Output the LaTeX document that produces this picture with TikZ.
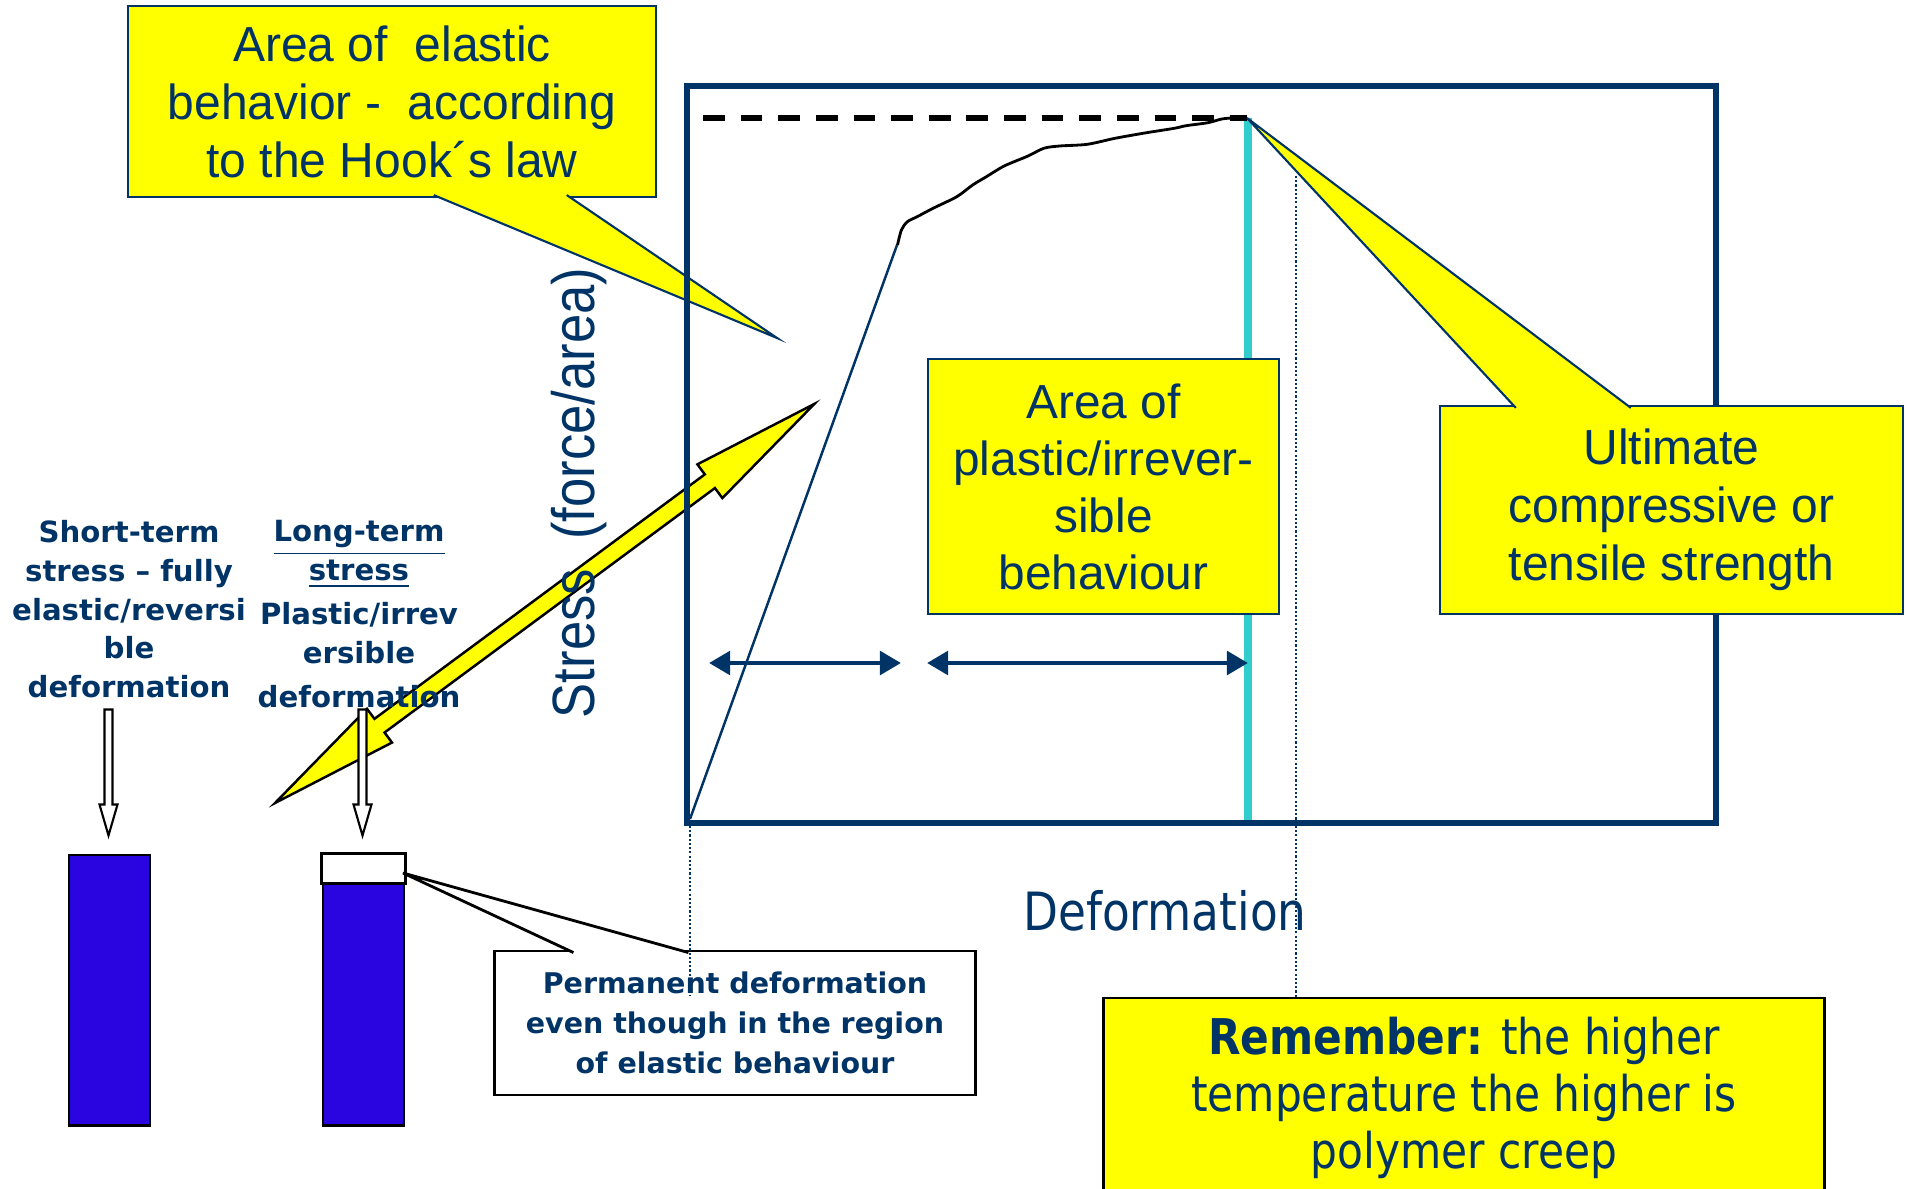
\documentclass[tikz,border=0pt]{standalone}
\usepackage{fontspec}
\setmainfont{Liberation Sans}
\newfontfamily\narrowfont[FakeStretch=0.975]{Liberation Sans}
\newfontfamily\axisfont[FakeStretch=0.88]{Liberation Sans}
\newfontfamily\tahomafont[FakeStretch=0.86]{DejaVu Sans}
\newfontfamily\verdanafont{DejaVu Sans}
\definecolor{navy}{HTML}{003366}
\definecolor{hiYellow}{HTML}{FFFF00}
\definecolor{peakCyan}{HTML}{33CCCC}
\definecolor{barBlue}{HTML}{2A05E0}
\usetikzlibrary{arrows.meta,positioning,calc}

\begin{document}
\begin{tikzpicture}[
    x=0.01cm, y=-0.01cm,
    yelbox/.style={draw=navy, fill=hiYellow, line width=0.6pt, text=navy,
                   align=center, inner sep=0pt},
    wedge/.style={draw=navy, fill=hiYellow, line width=0.6pt},
    notebox/.style={draw=black, fill=white, line width=0.8pt, text=navy,
                    align=center, inner sep=0pt,
                    font=\verdanafont\bfseries\fontsize{8.1}{11.4}\selectfont},
    coltext/.style={text=navy, align=center, inner sep=0pt,
                    font=\verdanafont\bfseries\fontsize{8.3}{11}\selectfont},
    dimarr/.style={{Triangle[length=6pt,width=6.6pt]}-{Triangle[length=6pt,width=6.6pt]},
                   navy, line width=1.4pt},
    guide/.style={navy, line width=0.45pt, dash pattern=on 0.6pt off 0.6pt},
    hollow/.style={draw=black, fill=white, line width=0.6pt},
    bar/.style={draw=black, fill=barBlue, line width=0.8pt, inner sep=0pt,
                minimum width=0.81cm, minimum height=2.70cm}
  ]
  \useasboundingbox (0,0) rectangle (1907,1188);
  \clip (0,0) rectangle (1907,1188);

  % yellow double arrow, behind the texts
  \coordinate (dblA) at (275,803);
  \draw[draw=black, fill=hiYellow, line width=0.7pt, shift={(dblA)}, rotate=36.5]
    (0,0) -- (130,21) -- (130,8.5) -- (541,8.5) -- (541,21) -- (671,0)
    -- (541,-21) -- (541,-8.5) -- (130,-8.5) -- (130,-21) -- cycle;

  % elastic callout
  \node[yelbox, minimum width=5.28cm, minimum height=1.91cm,
        font=\narrowfont\fontsize{14}{16.5}\selectfont] (elastic) at (392,101.5)
    {Area of~ elastic\\behavior -~ according\\to the Hook´s law};
  \coordinate (elastictip) at (777,338);
  \filldraw[wedge] ($(elastic.south west)+(307,-3)$) -- (elastictip)
    -- ($(elastic.south west)+(440,-3)$);

  % stress-strain plot
  \coordinate (origin) at (690,819);
  \coordinate (yield) at (897,245);
  \coordinate (peak) at (1247,118);
  \draw[guide] (1296,176) -- (1296,998);
  \draw[peakCyan, line width=2.3pt] (1248,118) -- (1248,820);
  \draw[navy, line width=1.7pt] (687,86) rectangle (1716,823);
  \draw[line width=1.5pt, dash pattern=on 6.2pt off 4.5pt] (703,118) -- (peak);
  \draw[navy, line width=0.7pt] (origin) -- (yield);
  \draw[line width=0.8pt] plot[smooth, tension=0.5] coordinates {
    (897.5,245) (901.4,230) (907.4,221.7) (917.2,216.7) (933,208.3)
    (956.8,196.7) (972.6,185) (986.4,176.7) (1004.2,166) (1028,156)
    (1043.8,148.3) (1059.6,146) (1087.3,144.3) (1115,138.3) (1146.6,132.7)
    (1174.3,128.3) (1186.1,125.7) (1207.9,122.7) (1221.7,119) (1232,118)};

  % plastic area and ultimate strength
  \node[yelbox, minimum width=3.51cm, minimum height=2.55cm,
        font=\fontsize{13.6}{16.2}\selectfont] (plastic) at (1103.5,486.5)
    {Area of\\plastic/irrever-\\sible\\behaviour};
  \node[yelbox, minimum width=4.63cm, minimum height=2.08cm,
        font=\narrowfont\fontsize{14}{16.5}\selectfont] (ultimate) at (1671.5,510)
    {Ultimate\\compressive or\\tensile strength};
  \filldraw[wedge] ($(ultimate.north west)+(77,3)$) -- (peak)
    -- ($(ultimate.north west)+(192,3)$);

  % ranges
  \coordinate (elL) at (709,663);
  \coordinate (elR) at (901,663);
  \coordinate (plL) at (927,663);
  \coordinate (plR) at (1248,663);
  \draw[dimarr] (elL) -- (elR);
  \draw[dimarr] (plL) -- (plR);

  % axis labels
  \node[rotate=90, anchor=base, text=navy, inner sep=0pt,
        font=\axisfont\fontsize{17}{20}\selectfont] (stresslbl) at (594,493)
    {Stress\ \ (force/area)};
  \node[anchor=base, text=navy, inner sep=0pt,
        font=\tahomafont\fontsize{15}{18}\selectfont] (deflbl) at (1165,930)
    {Deformation};

  % short- and long-term loading
  \node[coltext, anchor=north] (shortlbl) at (129,520)
    {Short-term\\stress – fully\\elastic/reversi\\ble\\deformation};
  \node[coltext, anchor=north] (longlbl) at (359,520)
    {\underline{Long-term}\\\underline{stress}\\[1.5pt]Plastic/irrev\\ersible\\[1.5pt]deformation};
  \node[bar] (shortbar) at (109.5,990) {};
  \node[bar] (longbar) at (363.5,990) {};
  \draw[black, fill=white, line width=0.8pt] (longbar.north west)
    rectangle ($(longbar.north east)+(0,30)$);
  \foreach \b in {shortbar,longbar}
    \draw[hollow, shift={($(\b.north)+(-1,-18)$)}] (0,0) -- (-9,-31) -- (-4,-31)
      -- (-4,-126) -- (4,-126) -- (4,-31) -- (9,-31) -- cycle;

  % permanent deformation note
  \node[notebox, minimum width=4.80cm, minimum height=1.44cm] (permanent) at (735,1023)
    {Permanent deformation\\even though in the region\\of elastic behaviour};
  \coordinate (permtip) at (403,873);
  \filldraw[draw=black, fill=white, line width=0.8pt]
    ($(permanent.north west)+(80,3)$) -- (permtip) -- ($(permanent.north west)+(195,3)$);
  \draw[guide] ($(origin)+(0,7)$) -- ($(origin)+(0,176)$);

  % remember note
  \node[draw=black, fill=hiYellow, line width=0.8pt, text=navy, align=center,
        inner sep=0pt, minimum width=7.20cm, minimum height=2.0cm,
        font=\tahomafont\fontsize{14}{16.2}\selectfont] (remember) at (1464,1098)
    {\textbf{Remember:} the higher\\temperature the higher is\\polymer creep};
\end{tikzpicture}
\end{document}
